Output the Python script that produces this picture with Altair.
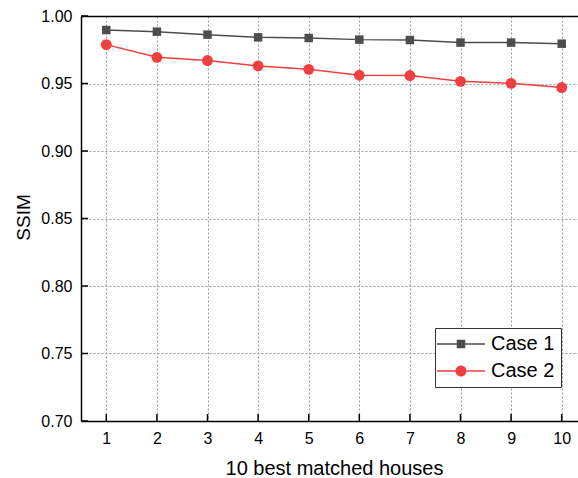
import altair as alt
import pandas as pd

# ---- data ----
houses = [1, 2, 3, 4, 5, 6, 7, 8, 9, 10]
case1 = [0.9896, 0.9884, 0.9862, 0.9842, 0.9837, 0.9825, 0.9822, 0.9803, 0.9803, 0.9795]
case2 = [0.9788, 0.9694, 0.9670, 0.9630, 0.9605, 0.9561, 0.9559, 0.9516, 0.9501, 0.9470]
series_names = ["Case 1", "Case 2"]
series_colors = ["#4D4D4D", "#F03F3F"]
y_ticks = [0.70, 0.75, 0.80, 0.85, 0.90, 0.95, 1.00]

df = pd.DataFrame({
    "house": houses * 2,
    "ssim": case1 + case2,
    "series": [series_names[0]] * len(case1) + [series_names[1]] * len(case2),
})

W, H = 497, 405
FONT = "Liberation Sans"
GRID = "#9a9a9a"

xscale = alt.Scale(domain=[0.5, 10.322], nice=False, zero=False)
yscale = alt.Scale(domain=[0.70, 1.00], nice=False, zero=False)
cscale = alt.Scale(domain=series_names, range=series_colors)

x_axis = alt.Axis(
    values=houses, format="d", title="10 best matched houses",
    ticks=False, tickSize=0, labelPadding=9,
    labelFont=FONT, labelFontSize=16, labelColor="black",
    titleFont=FONT, titleFontSize=20, titleFontWeight="normal", titleColor="black",
    titleBaseline="alphabetic", titleX=253, titleY=53, titleAlign="center",
    domainColor="black", domainWidth=1.5,
    grid=True, gridColor=GRID, gridDash=[2, 2], gridWidth=1,
)
y_axis = alt.Axis(
    values=y_ticks, format=".2f", title="SSIM",
    ticks=False, tickSize=0, labelPadding=9,
    labelFont=FONT, labelFontSize=16, labelColor="black",
    titleFont=FONT, titleFontSize=19, titleFontWeight="normal", titleColor="black",
    titleAngle=270, titleBaseline="alphabetic", titleAlign="center",
    titleX=-52, titleY=201,
    domainColor="black", domainWidth=1.5,
    grid=True,
    gridColor=alt.condition("datum.value >= 0.999", alt.value("black"), alt.value(GRID)),
    gridDash=alt.condition("datum.value >= 0.999", alt.value([1, 0]), alt.value([2, 2])),
    gridWidth=alt.condition("datum.value >= 0.999", alt.value(1.5), alt.value(1)),
    gridOpacity=alt.condition("datum.value <= 0.701", alt.value(0), alt.value(1)),
)

sym_expr = (
    "datum.value == 'Case 1' ? "
    "'M-4.8,-0.15H4.8V0.15H-4.8ZM-0.85,-0.85H0.85V0.85H-0.85Z' : "
    "'M-4.8,-0.15H4.8V0.15H-4.8ZM1.1,0A1.1,1.1,0,1,1,-1.1,0A1.1,1.1,0,1,1,1.1,0Z'"
)

legend = alt.Legend(
    title=None, orient="none", legendX=354, legendY=312, direction="vertical",
    fillColor="white", strokeColor="#333333", padding=6, rowPadding=7,
    labelFont=FONT, labelFontSize=20, labelColor="black", labelOffset=20,
    symbolOffset=10, symbolSize=100, symbolStrokeWidth=0, symbolOpacity=1,
    symbolType={"expr": sym_expr},
)

X = alt.X("house:Q", scale=xscale, axis=x_axis)
Y = alt.Y("ssim:Q", scale=yscale, axis=y_axis)
C = alt.Color("series:N", scale=cscale, legend=legend)

base = alt.Chart(df)

lines = base.mark_line(strokeWidth=1.5).encode(x=X, y=Y, color=C)

squares = base.transform_filter(alt.datum.series == series_names[0]).mark_square(
    size=72, opacity=1
).encode(x=X, y=Y, color=C)

circles = base.transform_filter(alt.datum.series == series_names[1]).mark_circle(
    size=118, opacity=1
).encode(x=X, y=Y, color=C)

xt = alt.Chart(pd.DataFrame({"house": houses})).mark_rule(color="black", strokeWidth=1.5).encode(
    x=X, y=alt.value(H - 7), y2=alt.value(H),
)
yt = alt.Chart(pd.DataFrame({"ssim": y_ticks})).mark_rule(color="black", strokeWidth=1.5).encode(
    y=Y, x=alt.value(0), x2=alt.value(7),
)

chart = alt.layer(lines, squares, circles, xt, yt).properties(
    width=W, height=H,
    autosize=alt.AutoSizeParams(type="none"),
    padding={"left": 81, "top": 16, "right": 0, "bottom": 57},
    background="white",
).configure_view(stroke="transparent")

chart.save("out.html", embed_options={"renderer": "svg", "actions": False})
